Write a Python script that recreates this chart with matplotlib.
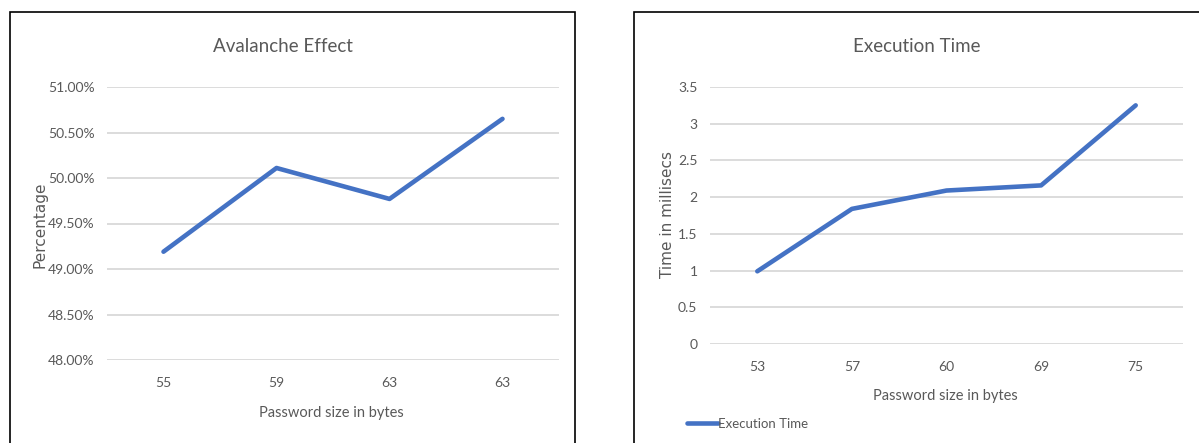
import matplotlib.pyplot as plt
from matplotlib.patches import Rectangle
from matplotlib.ticker import FuncFormatter

# avalanche effect data
aval_sizes = ['55', '59', '63', '63']
aval_pct = [49.19, 50.11, 49.77, 50.65]

# execution time data
exec_sizes = ['53', '57', '60', '69', '75']
exec_ms = [0.99, 1.84, 2.09, 2.16, 3.25]

W, H = 1199, 443
blue = '#4472C4'
grey = '#595959'
gridc = '#D9D9D9'
fnt = ['Lato', 'DejaVu Sans']

fig = plt.figure(figsize=(W / 100, H / 100), dpi=100)
fig.patch.set_facecolor('white')

# panel borders (bottom is cut off in the original)
for x0, x1 in [(10, 575), (634, 1205)]:
    fig.add_artist(Rectangle((x0 / W, -0.05), (x1 - x0) / W, 1.05 - 12 / H,
                             transform=fig.transFigure, fill=False,
                             edgecolor='black', linewidth=1.2))


def style(ax):
    for s in ax.spines.values():
        s.set_visible(False)
    ax.tick_params(length=0, colors=grey, labelsize=10)
    ax.tick_params(axis='y', pad=9)
    ax.tick_params(axis='x', pad=12)
    for lab in ax.get_xticklabels() + ax.get_yticklabels():
        lab.set_family(fnt)
    ax.grid(axis='y', color=gridc, linewidth=1.3)
    ax.set_axisbelow(True)


def px_axes(left, right, top, bottom):
    return fig.add_axes([left / W, 1 - bottom / H, (right - left) / W, (bottom - top) / H])


def ftext(x, y, s, **kw):
    fig.text(x / W, 1 - y / H, s, ha='center', va='center', color=grey, **kw)


# left chart
ax1 = px_axes(107, 559, 87, 360)
ax1.plot(range(len(aval_pct)), aval_pct, color=blue, linewidth=3.3, solid_capstyle='round')
ax1.set_xlim(-0.5, len(aval_pct) - 0.5)
ax1.set_ylim(48, 51)
ax1.set_yticks([48, 48.5, 49, 49.5, 50, 50.5, 51])
ax1.yaxis.set_major_formatter(FuncFormatter(lambda v, p: f'{v:.2f}%'))
ax1.set_xticks(range(len(aval_sizes)))
ax1.set_xticklabels(aval_sizes)
style(ax1)
ftext(283, 47, 'Avalanche Effect', fontsize=13.5, family=fnt)
ftext(331, 413, 'Password size in bytes', fontsize=10.5, family=fnt)
ftext(40, 225, 'Percentage', fontsize=11, family='DejaVu Sans', rotation=90)

# right chart
ax2 = px_axes(710, 1183, 87, 344)
ax2.plot(range(len(exec_ms)), exec_ms, color=blue, linewidth=3.3, solid_capstyle='round',
         label='Execution Time')
ax2.set_xlim(-0.5, len(exec_ms) - 0.5)
ax2.set_ylim(0, 3.5)
ax2.set_yticks([0, 0.5, 1, 1.5, 2, 2.5, 3, 3.5])
ax2.set_yticklabels(['0', '0.5', '1', '1.5', '2', '2.5', '3', '3.5'])
ax2.set_xticks(range(len(exec_sizes)))
ax2.set_xticklabels(exec_sizes)
style(ax2)
ftext(917, 47, 'Execution Time', fontsize=13.5, family=fnt)
ftext(945, 396, 'Password size in bytes', fontsize=10.5, family=fnt)
ftext(667, 215, 'Time in millisecs', fontsize=11, family='DejaVu Sans', rotation=90)
leg = ax2.legend(loc='center left', bbox_to_anchor=(682 / W, 1 - 424 / H),
                 bbox_transform=fig.transFigure, frameon=False, handlelength=2.3,
                 handletextpad=0.0, borderaxespad=0, prop={'family': fnt, 'size': 9.5})
for t in leg.get_texts():
    t.set_color(grey)

fig.savefig('out.png', dpi=100)
